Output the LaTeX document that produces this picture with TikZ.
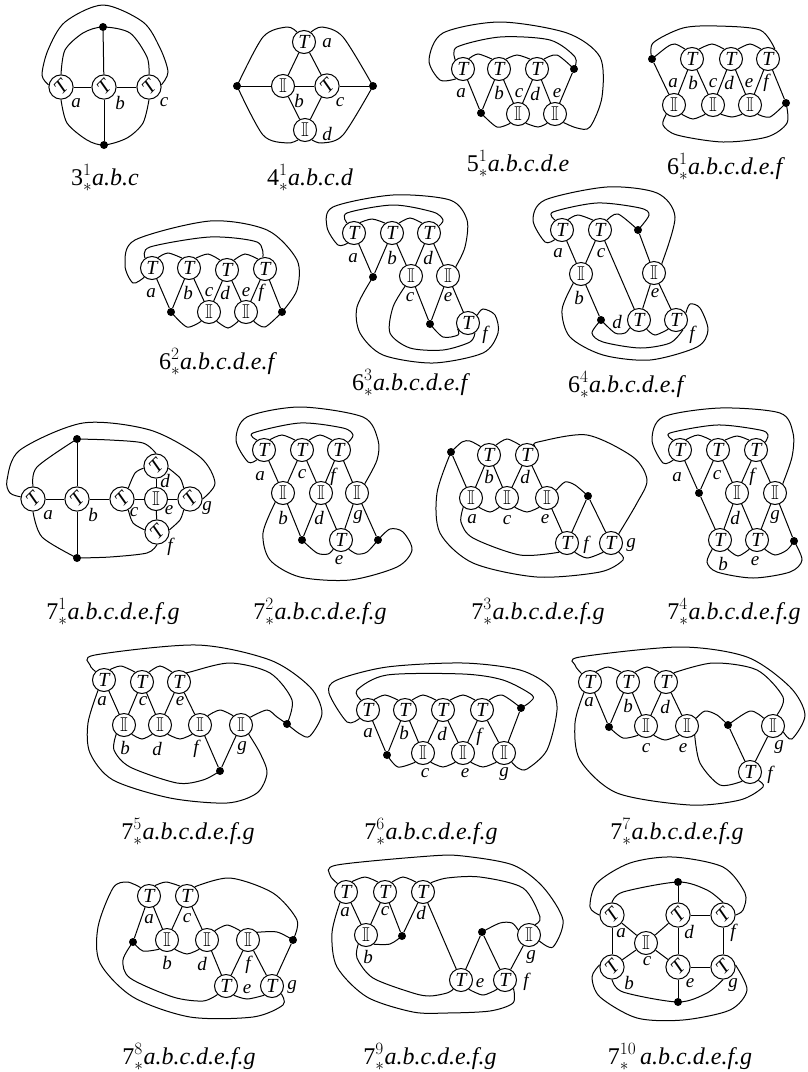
\documentclass[tikz,border=0pt]{standalone}
\usepackage{amssymb}
\usepackage{fontspec}
\setmainfont{Liberation Serif}
\tikzset{
  wire/.style={line width=1pt},
  tang/.style={circle,draw,line width=1pt,minimum size=23,inner sep=0pt,font=\fontsize{20}{20}\selectfont\itshape},
  dotn/.style={circle,fill=black,minimum size=8,inner sep=0pt},
  lab/.style={inner sep=0pt,font=\fontsize{19}{19}\selectfont\itshape},
  captn/.style={inner sep=0pt,font=\fontsize{24}{24}\selectfont}
}
\newcommand{\rT}{\rotatebox[origin=c]{45}{T}}
\newcommand{\iI}{$\mathbb{I}$}
\begin{document}
\begin{tikzpicture}[x=1pt,y=-1pt]
\useasboundingbox (0,0) rectangle (807,1072);

% 3-1
\foreach \m/\x/\y in {a/61/87,b/104/87,c/149/87} \node[tang] (t31\m) at (\x,\y) {\rT};
\node[dotn] (d31u) at (103,27) {};
\node[dotn] (d31v) at (104,145) {};
\foreach \p/\q in {t31a/t31b,t31b/t31c,d31u/t31b,t31b/d31v} \draw[wire] (\p) -- (\q);
\draw[wire] plot[smooth] coordinates {(t31a.170) (42,75) (48,50) (65,22) (103,5) (143,22) (160,48) (168,72) (t31c.10)};
\draw[wire] plot[smooth] coordinates {(t31a.90) (65,50) (83,33) (d31u.center) (130,33) (147,57) (t31c.90)};
\draw[wire] plot[smooth] coordinates {(t31a.-90) (67,123) (87,140) (d31v.center) (127,138) (143,123) (t31c.-90)};
\foreach \m/\x/\y in {a/76/103,b/120/103,c/164/102} \node[lab] (l31\m) at (\x,\y) {\m};
\node[captn] (c31) at (105,178) {3$^{1}_{*}$\textit{a.b.c}};

% 4-1
\node[tang] (t41a) at (304,42) {T};
\node[tang] (t41b) at (283,86) {\iI};
\node[tang] (t41c) at (327,86) {\rT};
\node[tang] (t41d) at (305,130) {\iI};
\node[dotn] (d41u) at (237,86) {};
\node[dotn] (d41v) at (373,86) {};
\foreach \p/\q in {t41a/t41b,t41a/t41c,t41b/t41c,d41u/t41b,t41c/d41v,t41b/t41d,t41c/t41d} \draw[wire] (\p) -- (\q);
\draw[wire] plot[smooth] coordinates {(d41u.center) (263,37) (287,27) (t41a.125)};
\draw[wire] plot[smooth] coordinates {(t41a.55) (322,27) (343,37) (d41v.center)};
\draw[wire] plot[smooth] coordinates {(d41u.center) (263,135) (287,143) (t41d.235)};
\draw[wire] plot[smooth] coordinates {(t41d.-55) (322,143) (343,135) (d41v.center)};
\foreach \m/\x/\y in {a/327/43,b/299/101,c/340/102,d/327/134} \node[lab] (l41\m) at (\x,\y) {\m};
\node[captn] (c41) at (310,178) {4$^{1}_{*}$\textit{a.b.c.d}};

% 5-1
\foreach \m/\x/\y in {a/463/69,b/499/69,d/537/69} \node[tang] (t51\m) at (\x,\y) {T};
\foreach \m/\x/\y in {c/518/114,e/555/114} \node[tang] (t51\m) at (\x,\y) {\iI};
\node[dotn] (d51u) at (574,69) {};
\node[dotn] (d51v) at (481,113) {};
\foreach \p/\q in {t51a/d51v,t51b/d51v,t51b/t51c,t51d/t51c,t51d/t51e,d51u/t51e} \draw[wire] (\p) -- (\q);
\draw[wire] plot[smooth] coordinates {(t51a.235) (440,80) (429,60) (443,33) (500,22) (567,33) (600,57) (602,97) (590,127) (577,128) (t51e.-45)};
\draw[wire] plot[smooth] coordinates {(t51a.130) (457,47) (500,37) (550,40) (575,57) (d51u.center)};
\draw[wire] plot[smooth] coordinates {(t51a.60) (478,54) (t51b.125)};
\draw[wire] plot[smooth] coordinates {(t51b.55) (517,55) (t51d.125)};
\draw[wire] plot[smooth] coordinates {(t51d.55) (557,55) (d51u.center)};
\draw[wire] plot[smooth] coordinates {(d51v.center) (497,127) (t51c.-130)};
\draw[wire] plot[smooth] coordinates {(t51c.-50) (538,127) (t51e.-130)};
\foreach \m/\x/\y in {a/461/93,b/499/93,c/519/93,d/535/94,e/557/93} \node[lab] (l51\m) at (\x,\y) {\m};
\node[captn] (c51) at (518,164) {5$^{1}_{*}$\textit{a.b.c.d.e}};

% 6-1
\foreach \m/\x/\y in {b/692/59,d/731/59,f/768/59} \node[tang] (t61\m) at (\x,\y) {T};
\foreach \m/\x/\y in {a/674/105,c/713/105,e/750/105} \node[tang] (t61\m) at (\x,\y) {\iI};
\node[dotn] (d61u) at (652,59) {};
\node[dotn] (d61v) at (786,103) {};
\foreach \p/\q in {d61u/t61a,t61b/t61a,t61b/t61c,t61d/t61c,t61d/t61e,t61f/t61e,t61f/d61v} \draw[wire] (\p) -- (\q);
\draw[wire] plot[smooth] coordinates {(d61u.center) (653,43) (683,28) (717,26) (760,30) (t61f.55)};
\draw[wire] plot[smooth] coordinates {(d61u.center) (667,47) (675,44) (t61b.125)};
\draw[wire] plot[smooth] coordinates {(t61b.55) (712,44) (t61d.125)};
\draw[wire] plot[smooth] coordinates {(t61d.55) (750,44) (t61f.125)};
\draw[wire] plot[smooth] coordinates {(t61a.-50) (693,119) (t61c.-130)};
\draw[wire] plot[smooth] coordinates {(t61c.-50) (732,117) (t61e.-130)};
\draw[wire] plot[smooth] coordinates {(t61e.-50) (770,117) (d61v.center)};
\draw[wire] plot[smooth] coordinates {(t61a.-130) (663,125) (677,135) (723,142) (767,137) (787,123) (d61v.center)};
\foreach \m/\x/\y in {a/673/83,b/693/83,c/713/83,d/729/83,e/749/83,f/766/83} \node[lab] (l61\m) at (\x,\y) {\m};
\node[captn] (c61) at (726,167) {6$^{1}_{*}$\textit{a.b.c.d.e.f}};

% 6-2
\foreach \m/\x/\y in {a/152/268,b/189/268,d/227/270,f/265/269} \node[tang] (t62\m) at (\x,\y) {T};
\foreach \m/\x/\y in {c/209/312,e/246/312} \node[tang] (t62\m) at (\x,\y) {\iI};
\node[dotn] (d62u) at (171,312) {};
\node[dotn] (d62v) at (282,312) {};
\foreach \p/\q in {t62a/d62u,t62b/d62u,t62b/t62c,t62d/t62c,t62d/t62e,t62f/t62e,t62f/d62v} \draw[wire] (\p) -- (\q);
\draw[wire] plot[smooth] coordinates {(t62a.230) (133,283) (125,265) (135,240) (210,221) (267,230) (297,260) (297,290) (d62v.center)};
\draw[wire] plot[smooth] coordinates {(t62a.125) (150,247) (210,237) (257,242) (t62f.100)};
\draw[wire] plot[smooth] coordinates {(t62a.60) (168,253) (t62b.125)};
\draw[wire] plot[smooth] coordinates {(t62b.55) (208,254) (t62d.125)};
\draw[wire] plot[smooth] coordinates {(t62d.55) (245,254) (t62f.125)};
\draw[wire] plot[smooth] coordinates {(d62u.center) (187,327) (t62c.-130)};
\draw[wire] plot[smooth] coordinates {(t62c.-50) (228,328) (t62e.-130)};
\draw[wire] plot[smooth] coordinates {(t62e.-50) (265,327) (d62v.center)};
\foreach \m/\x/\y in {a/151/293,b/188/293,c/209/292,d/225/293,e/246/292,f/261/293} \node[lab] (l62\m) at (\x,\y) {\m};
\node[captn] (c62) at (218,362) {6$^{2}_{*}$\textit{a.b.c.d.e.f}};

% 6-3
\foreach \m/\x/\y in {a/354/233,b/392/233,d/429/233,f/468/323} \node[tang] (t63\m) at (\x,\y) {T};
\foreach \m/\x/\y in {c/411/276,e/448/276} \node[tang] (t63\m) at (\x,\y) {\iI};
\node[dotn] (d63u) at (373,277) {};
\node[dotn] (d63v) at (430,324) {};
\foreach \p/\q in {t63a/d63u,t63b/d63u,t63b/t63c,t63d/t63c,t63d/t63e,t63c/d63v,t63e/d63v,t63e/t63f} \draw[wire] (\p) -- (\q);
\draw[wire] plot[smooth] coordinates {(t63a.238) (338,245) (327,227) (333,207) (393,195) (450,200) (467,220) (465,247) (t63e.50)};
\draw[wire] plot[smooth] coordinates {(t63a.125) (347,213) (393,205) (433,212) (443,220) (t63d.35)};
\draw[wire] plot[smooth] coordinates {(t63a.60) (372,219) (t63b.125)};
\draw[wire] plot[smooth] coordinates {(t63b.55) (410,218) (t63d.125)};
\draw[wire] plot[smooth] coordinates {(d63u.center) (357,307) (360,333) (383,355) (433,363) (483,353) (498,333) (495,315) (483,309) (t63f.40)};
\draw[wire] plot[smooth] coordinates {(t63c.-120) (393,307) (390,333) (410,348) (443,350) (470,342) (t63f.-55)};
\draw[wire] plot[smooth] coordinates {(d63v.center) (443,337) (458,335) (t63f.-150)};
\foreach \m/\x/\y in {a/353/258,b/392/258,c/410/297,d/428/258,e/448/297,f/485/335} \node[lab] (l63\m) at (\x,\y) {\m};
\node[captn] (c63) at (411,383) {6$^{3}_{*}$\textit{a.b.c.d.e.f}};

% 6-4
\foreach \m/\x/\y in {a/562/230,c/600/230,d/639/320,f/676/320} \node[tang] (t64\m) at (\x,\y) {T};
\foreach \m/\x/\y in {b/581/274,e/654/273} \node[tang] (t64\m) at (\x,\y) {\iI};
\node[dotn] (d64u) at (638,230) {};
\node[dotn] (d64v) at (601,320) {};
\foreach \p/\q in {t64a/t64b,t64c/t64b,t64c/t64d,d64u/t64e,t64e/t64d,t64e/t64f,t64b/d64v} \draw[wire] (\p) -- (\q);
\draw[wire] plot[smooth] coordinates {(t64a.233) (545,242) (533,220) (545,200) (607,187) (657,193) (675,217) (t64e.50)};
\draw[wire] plot[smooth] coordinates {(t64a.125) (553,212) (597,203) (640,208) (649,215) (d64u.center)};
\draw[wire] plot[smooth] coordinates {(t64a.60) (578,215) (t64c.125)};
\draw[wire] plot[smooth] coordinates {(t64c.55) (618,214) (d64u.center)};
\draw[wire] plot[smooth] coordinates {(t64b.-130) (562,310) (570,337) (603,355) (650,360) (697,347) (708,330) (700,308) (690,304) (t64f.35)};
\draw[wire] plot[smooth] coordinates {(d64v.center) (592,333) (603,342) (640,348) (670,343) (t64f.-55)};
\draw[wire] plot[smooth] coordinates {(d64v.center) (615,333) (625,333) (t64d.-140)};
\draw[wire] plot[smooth] coordinates {(t64d.-50) (655,335) (t64f.-130)};
\foreach \m/\x/\y in {a/558/253,b/579/298,c/601/253,d/617/322,e/655/293,f/692/335} \node[lab] (l64\m) at (\x,\y) {\m};
\node[captn] (c64) at (627,385) {6$^{4}_{*}$\textit{a.b.c.d.e.f}};

% 7-1
\foreach \m/\x/\y in {a/33/499,b/77/499,c/122/499,d/156/466,f/157/532,g/190/499} \node[tang] (t71\m) at (\x,\y) {\rT};
\node[tang] (t71e) at (156,499) {\iI};
\node[dotn] (d71u) at (77,439) {};
\node[dotn] (d71v) at (77,558) {};
\foreach \p/\q in {t71a/t71b,t71b/t71c,d71u/t71b,t71b/d71v,t71c/t71e,t71e/t71g,t71d/t71e,t71e/t71f} \draw[wire] (\p) -- (\q);
\draw[wire] plot[smooth] coordinates {(t71a.170) (10,493) (7,480) (20,450) (83,423) (150,430) (200,457) (215,483) (t71g.0)};
\draw[wire] plot[smooth] coordinates {(t71a.90) (37,467) (d71u.center)};
\draw[wire] plot[smooth] coordinates {(t71a.-90) (42,537) (d71v.center)};
\draw[wire] plot[smooth] coordinates {(d71u.center) (110,440) (143,443) (t71d.90)};
\draw[wire] plot[smooth] coordinates {(d71v.center) (110,557) (147,553) (t71f.-90)};
\draw[wire] plot[smooth] coordinates {(t71c.60) (135,473) (t71d.190)};
\draw[wire] plot[smooth] coordinates {(t71d.-10) (180,478) (t71g.120)};
\draw[wire] plot[smooth] coordinates {(t71c.-60) (133,523) (t71f.170)};
\draw[wire] plot[smooth] coordinates {(t71f.10) (180,520) (t71g.-120)};
\foreach \m/\x/\y in {a/48/515,b/93/515,c/134/512,d/165/481,e/169/510,f/170/547,g/207/508} \node[lab] (l71\m) at (\x,\y) {\m};
\node[captn] (c71) at (113,612) {7$^{1}_{*}$\textit{a.b.c.d.e.f.g}};

% 7-2
\foreach \m/\x/\y in {a/264/450,c/302/450,f/339/450,e/341/540} \node[tang] (t72\m) at (\x,\y) {T};
\foreach \m/\x/\y in {b/283/493,d/321/493,g/357/493} \node[tang] (t72\m) at (\x,\y) {\iI};
\node[dotn] (d72u) at (302,540) {};
\node[dotn] (d72v) at (378,540) {};
\foreach \p/\q in {t72a/t72b,t72c/t72b,t72c/t72d,t72f/t72d,t72f/t72g,t72b/d72u,t72d/d72u,t72d/t72e,t72g/t72e,t72g/d72v} \draw[wire] (\p) -- (\q);
\draw[wire] plot[smooth] coordinates {(t72a.234) (248,462) (236,440) (247,417) (300,407) (363,417) (378,440) (377,460) (t72g.50)};
\draw[wire] plot[smooth] coordinates {(t72a.125) (253,433) (300,423) (343,428) (353,435) (t72f.40)};
\draw[wire] plot[smooth] coordinates {(t72a.60) (282,435) (t72c.125)};
\draw[wire] plot[smooth] coordinates {(t72c.55) (320,435) (t72f.125)};
\draw[wire] plot[smooth] coordinates {(t72b.-130) (263,533) (270,560) (300,577) (350,580) (397,567) (412,550) (403,532) (390,529) (d72v.center)};
\draw[wire] plot[smooth] coordinates {(d72u.center) (317,553) (328,554) (t72e.-130)};
\draw[wire] plot[smooth] coordinates {(t72e.-50) (357,554) (367,552) (d72v.center)};
\foreach \m/\x/\y in {a/260/476,b/283/518,c/302/474,d/319/518,e/339/560,f/333/477,g/358/517} \node[lab] (l72\m) at (\x,\y) {\m};
\node[captn] (c72) at (320,612) {7$^{2}_{*}$\textit{a.b.c.d.e.f.g}};

% 7-3
\foreach \m/\x/\y in {b/489/455,d/527/455,f/567/543,g/611/543} \node[tang] (t73\m) at (\x,\y) {T};
\foreach \m/\x/\y in {a/471/498,c/507/498,e/547/498} \node[tang] (t73\m) at (\x,\y) {\iI};
\node[dotn] (d73u) at (451,452) {};
\node[dotn] (d73v) at (588,496) {};
\foreach \p/\q in {d73u/t73a,t73b/t73a,t73b/t73c,t73d/t73c,t73d/t73e,t73e/t73f,t73f/d73v,d73v/t73g} \draw[wire] (\p) -- (\q);
\draw[wire] plot[smooth] coordinates {(d73u.center) (462,442) (470,441) (t73b.135)};
\draw[wire] plot[smooth] coordinates {(t73b.55) (507,439) (t73d.125)};
\draw[wire] plot[smooth] coordinates {(t73d.50) (538,442) (587,435) (633,457) (647,480) (637,503) (t73g.50)};
\draw[wire] plot[smooth] coordinates {(t73a.-50) (490,512) (t73c.-130)};
\draw[wire] plot[smooth] coordinates {(t73c.-50) (527,512) (t73e.-130)};
\draw[wire] plot[smooth] coordinates {(t73e.40) (565,482) (575,485) (d73v.center)};
\draw[wire] plot[smooth] coordinates {(t73a.-130) (461,522) (473,538) (520,555) (t73f.-130)};
\draw[wire] plot[smooth] coordinates {(t73f.-50) (587,558) (t73g.-130)};
\draw[wire] plot[smooth] coordinates {(d73u.center) (437,493) (440,533) (473,563) (537,577) (600,572) (623,560) (t73g.-50)};
\foreach \m/\x/\y in {a/472/519,b/489/477,c/507/520,d/525/477,e/545/519,f/586/545,g/631/545} \node[lab] (l73\m) at (\x,\y) {\m};
\node[captn] (c73) at (538,612) {7$^{3}_{*}$\textit{a.b.c.d.e.f.g}};

% 7-4
\foreach \m/\x/\y in {a/680/450,c/718/450,f/756/450,b/720/540,e/757/540} \node[tang] (t74\m) at (\x,\y) {T};
\foreach \m/\x/\y in {d/737/493,g/775/493} \node[tang] (t74\m) at (\x,\y) {\iI};
\node[dotn] (d74u) at (699,493) {};
\node[dotn] (d74v) at (794,541) {};
\foreach \p/\q in {t74a/d74u,t74c/d74u,d74u/t74b,t74c/t74d,t74f/t74d,t74f/t74g,t74d/t74b,t74d/t74e,t74g/t74e,t74g/d74v} \draw[wire] (\p) -- (\q);
\draw[wire] plot[smooth] coordinates {(t74a.236) (663,463) (652,440) (663,417) (720,408) (780,413) (793,433) (792,457) (t74g.50)};
\draw[wire] plot[smooth] coordinates {(t74a.125) (670,433) (717,425) (760,430) (768,435) (t74f.40)};
\draw[wire] plot[smooth] coordinates {(t74a.60) (698,435) (t74c.125)};
\draw[wire] plot[smooth] coordinates {(t74c.55) (737,436) (t74f.125)};
\draw[wire] plot[smooth] coordinates {(t74b.-50) (738,556) (t74e.-130)};
\draw[wire] plot[smooth] coordinates {(t74e.-50) (775,555) (787,550) (d74v.center)};
\draw[wire] plot[smooth] coordinates {(t74b.-130) (707,562) (717,572) (753,578) (790,572) (802,560) (d74v.center)};
\foreach \m/\x/\y in {a/677/477,b/723/564,c/717/475,d/735/518,e/755/561,f/752/477,g/775/517} \node[lab] (l74\m) at (\x,\y) {\m};
\node[captn] (c74) at (734,612) {7$^{4}_{*}$\textit{a.b.c.d.e.f.g}};

% 7-5
\foreach \m/\x/\y in {a/104/680,c/142/682,e/179/682} \node[tang] (t75\m) at (\x,\y) {T};
\foreach \m/\x/\y in {b/124/725,d/160/725,f/200/725,g/241/725} \node[tang] (t75\m) at (\x,\y) {\iI};
\node[dotn] (d75u) at (220,771) {};
\node[dotn] (d75v) at (287,724) {};
\foreach \p/\q in {t75a/t75b,t75c/t75b,t75c/t75d,t75e/t75d,t75e/t75f,t75f/d75u,t75g/d75u} \draw[wire] (\p) -- (\q);
\draw[wire] plot[smooth] coordinates {(t75a.135) (90,665) (95,655) (197,645) (270,660) (310,687) (322,713) (310,736) (300,734) (d75v.center)};
\draw[wire] plot[smooth] coordinates {(t75a.60) (121,666) (t75c.125)};
\draw[wire] plot[smooth] coordinates {(t75c.55) (160,666) (t75e.125)};
\draw[wire] plot[smooth] coordinates {(t75e.50) (190,672) (230,663) (270,673) (292,700) (d75v.center)};
\draw[wire] plot[smooth] coordinates {(t75b.-50) (142,739) (t75d.-130)};
\draw[wire] plot[smooth] coordinates {(t75d.-50) (180,739) (t75f.-130)};
\draw[wire] plot[smooth] coordinates {(t75f.50) (220,710) (t75g.130)};
\draw[wire] plot[smooth] coordinates {(t75g.40) (267,710) (277,717) (d75v.center)};
\draw[wire] plot[smooth] coordinates {(t75b.-130) (114,750) (130,767) (177,783) (203,780) (d75u.center)};
\draw[wire] plot[smooth] coordinates {(t75a.-120) (88,723) (90,753) (113,780) (170,798) (227,803) (257,793) (267,773) (260,753) (t75g.-50)};
\foreach \m/\x/\y in {a/102/701,b/125/748,c/143/701,d/157/749,e/180/701,f/196/749,g/242/748} \node[lab] (l75\m) at (\x,\y) {\m};
\node[captn] (c75) at (188,832) {7$^{5}_{*}$\textit{a.b.c.d.e.f.g}};

% 7-6
\foreach \m/\x/\y in {a/368/710,b/405/710,d/443/710,f/482/710} \node[tang] (t76\m) at (\x,\y) {T};
\foreach \m/\x/\y in {c/423/753,e/463/753,g/504/753} \node[tang] (t76\m) at (\x,\y) {\iI};
\node[dotn] (d76u) at (387,755) {};
\node[dotn] (d76v) at (521,708) {};
\foreach \p/\q in {t76a/d76u,t76b/d76u,t76b/t76c,t76d/t76c,t76d/t76e,t76f/t76e,t76f/t76g,d76v/t76g} \draw[wire] (\p) -- (\q);
\draw[wire] plot[smooth] coordinates {(t76a.225) (347,722) (329,693) (337,680) (387,667) (463,663) (520,670) (550,687) (557,710) (547,750) (527,769) (518,768) (t76g.-50)};
\draw[wire] plot[smooth] coordinates {(t76a.125) (357,690) (387,675) (463,674) (503,680) (532,695) (530,702) (d76v.center)};
\draw[wire] plot[smooth] coordinates {(t76a.60) (385,695) (t76b.125)};
\draw[wire] plot[smooth] coordinates {(t76b.55) (423,695) (t76d.125)};
\draw[wire] plot[smooth] coordinates {(t76d.55) (463,695) (t76f.125)};
\draw[wire] plot[smooth] coordinates {(t76f.55) (502,695) (d76v.center)};
\draw[wire] plot[smooth] coordinates {(d76u.center) (398,767) (t76c.-130)};
\draw[wire] plot[smooth] coordinates {(t76c.-50) (443,767) (t76e.-130)};
\draw[wire] plot[smooth] coordinates {(t76e.-50) (483,767) (t76g.-130)};
\foreach \m/\x/\y in {a/368/733,b/404/733,c/425/773,d/442/734,e/465/773,f/479/737,g/504/774} \node[lab] (l76\m) at (\x,\y) {\m};
\node[captn] (c76) at (431,832) {7$^{6}_{*}$\textit{a.b.c.d.e.f.g}};

% 7-7
\foreach \m/\x/\y in {a/590/682,b/628/682,d/666/682,f/750/772} \node[tang] (t77\m) at (\x,\y) {T};
\foreach \m/\x/\y in {c/646/726,e/687/726,g/773/726} \node[tang] (t77\m) at (\x,\y) {\iI};
\node[dotn] (d77u) at (609,727) {};
\node[dotn] (d77v) at (728,725) {};
\foreach \p/\q in {t77a/d77u,t77b/d77u,t77b/t77c,t77d/t77c,t77d/t77e,d77v/t77f,t77f/t77g} \draw[wire] (\p) -- (\q);
\draw[wire] plot[smooth] coordinates {(t77a.135) (575,665) (580,657) (680,647) (747,657) (790,687) (805,715) (792,739) (t77g.-30)};
\draw[wire] plot[smooth] coordinates {(t77a.60) (608,667) (t77b.125)};
\draw[wire] plot[smooth] coordinates {(t77b.55) (647,667) (t77d.125)};
\draw[wire] plot[smooth] coordinates {(t77d.50) (713,663) (757,670) (783,697) (t77g.70)};
\draw[wire] plot[smooth] coordinates {(d77u.center) (623,738) (t77c.-130)};
\draw[wire] plot[smooth] coordinates {(t77c.-50) (665,740) (t77e.-130)};
\draw[wire] plot[smooth] coordinates {(t77e.40) (705,711) (717,715) (d77v.center)};
\draw[wire] plot[smooth] coordinates {(d77v.center) (750,711) (t77g.140)};
\draw[wire] plot[smooth] coordinates {(t77e.-50) (700,763) (720,785) (t77f.-130)};
\draw[wire] plot[smooth] coordinates {(t77a.-120) (575,723) (580,760) (617,793) (690,805) (740,800) (763,787) (t77f.-45)};
\foreach \m/\x/\y in {a/589/702,b/628/706,c/646/748,d/665/707,e/683/748,f/770/775,g/779/747} \node[lab] (l77\m) at (\x,\y) {\m};
\node[captn] (c77) at (677,832) {7$^{7}_{*}$\textit{a.b.c.d.e.f.g}};

% 7-8
\foreach \m/\x/\y in {a/149/896,c/187/896,e/226/986,g/272/986} \node[tang] (t78\m) at (\x,\y) {T};
\foreach \m/\x/\y in {b/167/940,d/207/940,f/248/940} \node[tang] (t78\m) at (\x,\y) {\iI};
\node[dotn] (d78u) at (133,942) {};
\node[dotn] (d78v) at (293,940) {};
\foreach \p/\q in {d78u/t78a,t78a/t78b,t78c/t78b,t78c/t78d,t78d/t78e,t78e/t78f,t78f/t78g,t78g/d78v} \draw[wire] (\p) -- (\q);
\draw[wire] plot[smooth] coordinates {(t78a.135) (127,882) (113,888) (98,927) (100,963) (133,997) (190,1017) (253,1017) (283,1005) (t78g.-40)};
\draw[wire] plot[smooth] coordinates {(t78a.60) (166,882) (t78c.125)};
\draw[wire] plot[smooth] coordinates {(t78c.50) (230,878) (273,893) (297,920) (d78v.center)};
\draw[wire] plot[smooth] coordinates {(d78u.center) (143,951) (t78b.-130)};
\draw[wire] plot[smooth] coordinates {(t78b.-50) (187,954) (t78d.-130)};
\draw[wire] plot[smooth] coordinates {(t78d.50) (227,925) (t78f.130)};
\draw[wire] plot[smooth] coordinates {(t78f.40) (277,932) (d78v.center)};
\draw[wire] plot[smooth] coordinates {(d78u.center) (123,960) (130,978) (173,997) (203,1001) (t78e.-135)};
\draw[wire] plot[smooth] coordinates {(t78e.-50) (247,999) (t78g.-130)};
\foreach \m/\x/\y in {a/149/919,b/167/963,c/187/918,d/202/964,e/247/989,f/248/965,g/292/987} \node[lab] (l78\m) at (\x,\y) {\m};
\node[captn] (c78) at (189,1057) {7$^{8}_{*}$\textit{a.b.c.d.e.f.g}};

% 7-9
\foreach \m/\x/\y in {a/346/892,c/385/892,d/423/892,e/461/980,f/505/980} \node[tang] (t79\m) at (\x,\y) {T};
\foreach \m/\x/\y in {b/366/935,g/529/935} \node[tang] (t79\m) at (\x,\y) {\iI};
\node[dotn] (d79u) at (402,936) {};
\node[dotn] (d79v) at (482,932) {};
\foreach \p/\q in {t79a/t79b,t79c/t79b,t79c/d79u,t79d/d79u,t79d/t79e,t79e/d79v,d79v/t79f,t79f/t79g} \draw[wire] (\p) -- (\q);
\draw[wire] plot[smooth] coordinates {(t79a.135) (330,875) (337,865) (430,856) (463,856) (513,865) (543,887) (563,920) (553,947) (t79g.-30)};
\draw[wire] plot[smooth] coordinates {(t79a.60) (365,877) (t79c.125)};
\draw[wire] plot[smooth] coordinates {(t79c.55) (403,877) (t79d.125)};
\draw[wire] plot[smooth] coordinates {(t79d.50) (447,878) (480,877) (523,888) (540,917) (t79g.60)};
\draw[wire] plot[smooth] coordinates {(t79b.-50) (390,944) (d79u.center)};
\draw[wire] plot[smooth] coordinates {(d79v.center) (500,923) (512,923) (t79g.155)};
\draw[wire] plot[smooth] coordinates {(t79e.-50) (483,995) (t79f.-130)};
\draw[wire] plot[smooth] coordinates {(t79b.-130) (357,958) (373,978) (413,993) (430,996) (447,993) (t79e.-130)};
\draw[wire] plot[smooth] coordinates {(t79a.-120) (332,933) (337,967) (367,997) (413,1012) (447,1013) (490,1011) (513,1003) (t79f.-45)};
\foreach \m/\x/\y in {a/345/912,b/368/957,c/385/911,d/421/913,e/480/983,f/526/982,g/531/957} \node[lab] (l79\m) at (\x,\y) {\m};
\node[captn] (c79) at (430,1057) {7$^{9}_{*}$\textit{a.b.c.d.e.f.g}};

% 7-10
\foreach \m/\x/\y in {a/612/915,b/612/967,d/678/915,e/678/967,f/723/915,g/723/967} \node[tang] (t710\m) at (\x,\y) {\rT};
\node[tang] (t710c) at (646,943) {\iI};
\node[dotn] (d710u) at (678,882) {};
\node[dotn] (d710v) at (678,1002) {};
\foreach \p/\q in {t710a/t710b,t710a/t710c,t710b/t710c,t710c/t710d,t710c/t710e,t710d/t710e,t710d/t710f,t710e/t710g,t710f/t710g,d710u/t710d,t710e/d710v} \draw[wire] (\p) -- (\q);
\draw[wire] plot[smooth] coordinates {(t710a.180) (590,907) (597,883) (630,863) (673,857) (723,867) (745,893) (743,910) (t710f.0)};
\draw[wire] plot[smooth] coordinates {(t710a.90) (623,892) (d710u.center) (707,890) (t710f.90)};
\draw[wire] plot[smooth] coordinates {(t710b.-90) (623,992) (d710v.center) (707,993) (t710g.-90)};
\draw[wire] plot[smooth] coordinates {(t710b.170) (592,977) (600,997) (637,1018) (683,1020) (730,1010) (747,990) (t710g.10)};
\foreach \m/\x/\y in {a/621/933,b/629/983,c/647/961,d/689/932,e/690/983,f/733/933,g/733/985} \node[lab] (l710\m) at (\x,\y) {\m};
\node[captn] (c710) at (680,1057) {7$^{10}_{*}$\,\textit{a.b.c.d.e.f.g}};

\end{tikzpicture}
\end{document}
